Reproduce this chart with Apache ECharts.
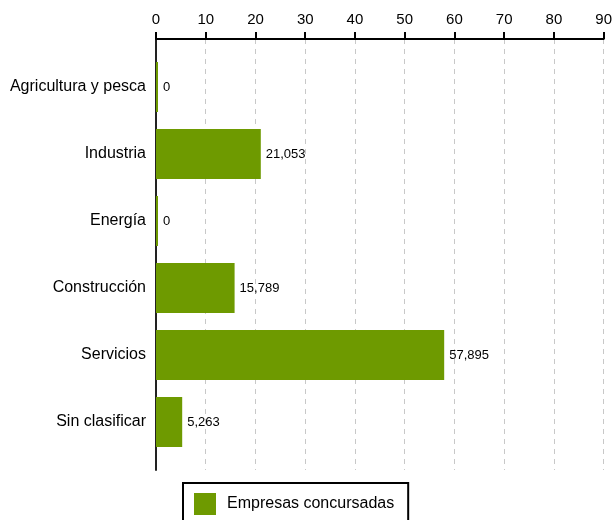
<!DOCTYPE html>
<html>
<head>
<meta charset="utf-8">
<script src="https://cdn.jsdelivr.net/npm/echarts@6/dist/echarts.min.js"></script>
<style>
  html, body { margin: 0; padding: 0; background: #fff; }
  #chart { width: 615px; height: 520px; }
</style>
</head>
<body>
<div id="chart"></div>
<script>
// datos
const sectores = ['Agricultura y pesca', 'Industria', 'Energía', 'Construcción', 'Servicios', 'Sin clasificar'];
const concursadas = [0, 21.053, 0, 15.789, 57.895, 5.263];
const serieNombre = 'Empresas concursadas';
const ejeMin = 0, ejeMax = 90, ejePaso = 10;

const verde = '#6e9a00';
const fuente = '"Liberation Sans", Arial, sans-serif';

const chart = echarts.init(document.getElementById('chart'));

chart.setOption({
  animation: false,
  textStyle: { fontFamily: fuente },
  grid: [
    // marco: eje superior, rejilla y línea vertical
    { left: 156, right: 11, top: 39, bottom: 50 },
    // barras
    { left: 156, right: 11, top: 53.5, height: 402 }
  ],
  legend: {
    data: [serieNombre],
    left: 183,
    top: 483,
    icon: 'rect',
    itemWidth: 22,
    itemHeight: 22,
    padding: [10, 14, 10, 11],
    borderColor: '#000',
    borderWidth: 2,
    textStyle: { fontSize: 16, color: '#000', padding: [0, 0, 0, 6], fontFamily: fuente }
  },
  xAxis: [
    {
      gridIndex: 0,
      type: 'value',
      position: 'top',
      min: ejeMin, max: ejeMax, interval: ejePaso,
      axisLine: { show: true, onZero: false, lineStyle: { color: '#000', width: 2 } },
      axisTick: { show: true, length: 7, lineStyle: { color: '#000', width: 2 } },
      axisLabel: { color: '#000', fontSize: 15, margin: 12 },
      splitLine: { show: true, lineStyle: { color: '#c8c8c8', width: 1, type: [5, 5] } }
    },
    {
      gridIndex: 1,
      type: 'value',
      min: ejeMin, max: ejeMax,
      show: false
    }
  ],
  yAxis: [
    {
      gridIndex: 0,
      type: 'value',
      min: 0, max: 1,
      axisLine: { show: true, onZero: false, lineStyle: { color: '#222', width: 2 } },
      axisTick: { show: false },
      axisLabel: { show: false },
      splitLine: { show: false }
    },
    {
      gridIndex: 1,
      type: 'category',
      inverse: true,
      data: sectores,
      axisLine: { show: false },
      axisTick: { show: false },
      axisLabel: { color: '#000', fontSize: 16, margin: 10 },
      splitLine: { show: false }
    }
  ],
  series: [
    {
      name: serieNombre,
      type: 'bar',
      xAxisIndex: 1,
      yAxisIndex: 1,
      data: concursadas,
      barWidth: 50,
      barMinHeight: 2,
      itemStyle: { color: verde },
      label: {
        show: true,
        position: 'right',
        distance: 5,
        color: '#000',
        fontSize: 13,
        formatter: p => p.value === 0 ? '0' : p.value.toFixed(3).replace('.', ',')
      }
    }
  ]
});
</script>
</body>
</html>
